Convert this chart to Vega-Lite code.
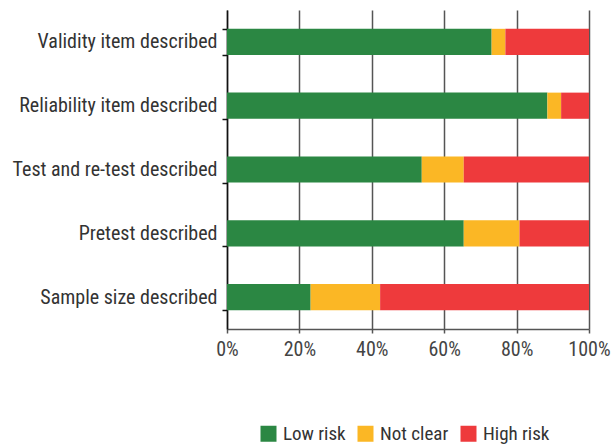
{
  "$schema": "https://vega.github.io/schema/vega-lite/v6.json",
  "autosize": {"type": "none"},
  "width": 362,
  "height": 319,
  "padding": {"left": 227, "top": 10, "right": 24, "bottom": 116},
  "config": {
    "font": "Roboto Condensed, DejaVu Sans Condensed, Roboto",
    "view": {"stroke": null}
  },
  "data": {
    "values": [
      {"item": "Validity item described", "risk": "Low risk", "ord": 1, "pct": 73.1},
      {"item": "Validity item described", "risk": "Not clear", "ord": 2, "pct": 3.8},
      {"item": "Validity item described", "risk": "High risk", "ord": 3, "pct": 23.1},
      {"item": "Reliability item described", "risk": "Low risk", "ord": 1, "pct": 88.5},
      {"item": "Reliability item described", "risk": "Not clear", "ord": 2, "pct": 3.8},
      {"item": "Reliability item described", "risk": "High risk", "ord": 3, "pct": 7.7},
      {"item": "Test and re-test described", "risk": "Low risk", "ord": 1, "pct": 53.8},
      {"item": "Test and re-test described", "risk": "Not clear", "ord": 2, "pct": 11.6},
      {"item": "Test and re-test described", "risk": "High risk", "ord": 3, "pct": 34.6},
      {"item": "Pretest described", "risk": "Low risk", "ord": 1, "pct": 65.4},
      {"item": "Pretest described", "risk": "Not clear", "ord": 2, "pct": 15.4},
      {"item": "Pretest described", "risk": "High risk", "ord": 3, "pct": 19.2},
      {"item": "Sample size described", "risk": "Low risk", "ord": 1, "pct": 23.1},
      {"item": "Sample size described", "risk": "Not clear", "ord": 2, "pct": 19.2},
      {"item": "Sample size described", "risk": "High risk", "ord": 3, "pct": 57.7}
    ]
  },
  "mark": {"type": "bar"},
  "encoding": {
    "y": {
      "field": "item",
      "type": "nominal",
      "sort": ["Validity item described", "Reliability item described", "Test and re-test described", "Pretest described", "Sample size described"],
      "scale": {"paddingInner": 0.59, "paddingOuter": 0.295},
      "axis": {
        "title": null,
        "tickBand": "extent",
        "labelFontSize": 20,
        "labelColor": "#333",
        "labelPadding": 5,
        "labelLimit": 0,
        "tickSize": 5,
        "tickColor": "#111",
        "tickWidth": 1.5,
        "domainColor": "#111",
        "domainWidth": 1.5,
        "grid": false
      }
    },
    "x": {
      "field": "pct",
      "type": "quantitative",
      "stack": "zero",
      "scale": {"domain": [0, 100], "nice": false},
      "axis": {
        "title": null,
        "values": [0, 20, 40, 60, 80, 100],
        "labelExpr": "datum.value + '%'",
        "labelFontSize": 20,
        "labelColor": "#444",
        "labelPadding": 6,
        "labelFlush": false,
        "labelOverlap": false,
        "tickSize": 4,
        "tickColor": "#555",
        "tickWidth": 1.5,
        "domainColor": "#555",
        "domainWidth": 1.5,
        "grid": true,
        "gridColor": "#555",
        "gridWidth": 1.5,
        "gridOpacity": 1
      }
    },
    "color": {
      "field": "risk",
      "type": "nominal",
      "sort": ["Low risk", "Not clear", "High risk"],
      "scale": {"domain": ["Low risk", "Not clear", "High risk"], "range": ["#2b8743", "#fbb725", "#ee3a3c"]},
      "legend": {
        "title": null,
        "orient": "none",
        "legendX": 32,
        "legendY": 414,
        "direction": "horizontal",
        "symbolType": "square",
        "symbolSize": 256,
        "symbolStrokeWidth": 0,
        "labelFontSize": 19,
        "labelColor": "#333",
        "labelOffset": 5,
        "columnPadding": 10
      }
    },
    "order": {"field": "ord", "type": "quantitative"}
  }
}
